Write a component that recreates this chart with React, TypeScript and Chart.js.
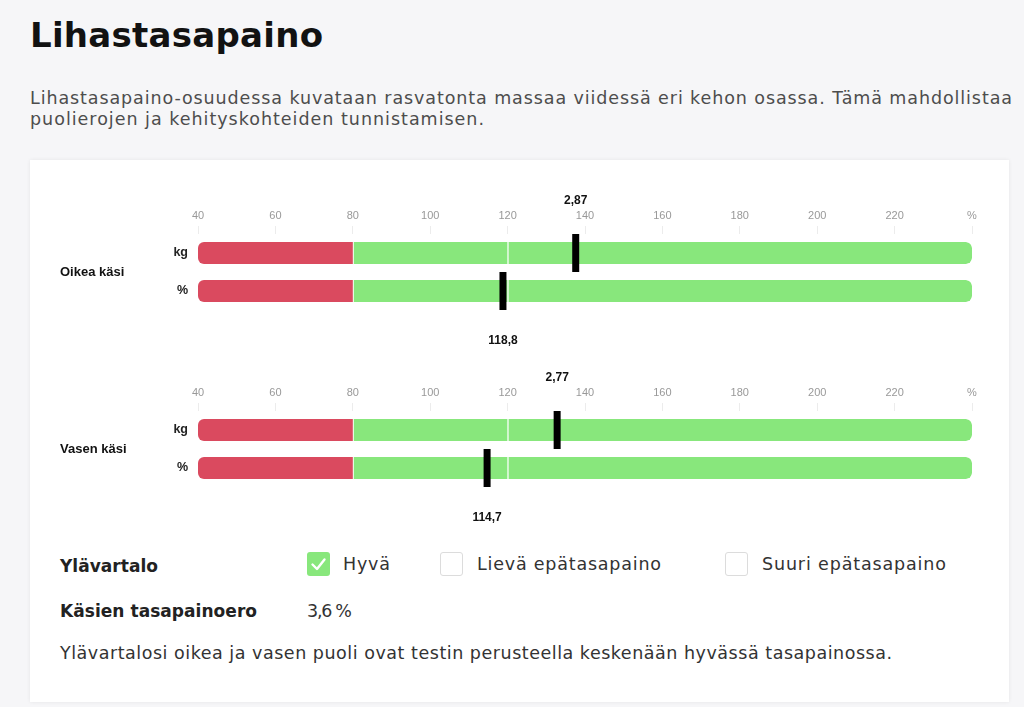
import React, { useEffect, useLayoutEffect, useRef } from 'react';
import { Chart, registerables } from 'chart.js';

Chart.register(...registerables);

// ---- data ----
const rowLabels = ['kg', '%'];
const xTickLabels = ['40', '60', '80', '100', '120', '140', '160', '180', '200', '220', '%'];
const axisMin = 40;
const axisMax = 240;
const axisStep = 20;
const redRange = [40, 80];
const greenLowRange = [80, 120];
const greenHighRange = [120, 240];

const rightArmName = 'Oikea käsi';
const rightArmMarkerPos = [137.6, 118.8];
const rightArmMarkerText = ['2,87', '118,8'];

const leftArmName = 'Vasen käsi';
const leftArmMarkerPos = [132.8, 114.7];
const leftArmMarkerText = ['2,77', '114,7'];

// ---- styles ----
const RED = '#da4a5f';
const GREEN = '#88e77c';
const CHART_FONT = 'Arial, "Liberation Sans", sans-serif';
const PAGE_FONT = '"DejaVu Sans", "Noto Sans", sans-serif';
const PAGE_BASELINE = 0.346;

type ChartProps = { name: string; markerPos: number[]; markerText: string[]; top: number };

function BalanceChart({ name, markerPos, markerText, top }: ChartProps) {
  const ref = useRef<HTMLCanvasElement>(null);
  useEffect(() => {
    if (!ref.current) return;
    const labelPlugin = {
      id: 'markerLabels',
      afterDatasetsDraw(chart: any) {
        const meta = chart.getDatasetMeta(3);
        const ctx = chart.ctx;
        ctx.save();
        ctx.font = `bold 12px ${CHART_FONT}`;
        ctx.fillStyle = '#111';
        ctx.textAlign = 'center';
        ctx.textBaseline = 'middle';
        meta.data.forEach((pt: any, i: number) => {
          const dy = i === 0 ? -52 : 50;
          ctx.fillText(markerText[i], pt.x, pt.y + dy);
        });
        ctx.restore();
      },
    };
    const barCommon = {
      xAxisID: 'x',
      yAxisID: 'y',
      grouped: false,
      barThickness: 22,
      borderSkipped: false,
      inflateAmount: 0,
      order: 1,
    };
    const chart = new Chart(ref.current, {
      type: 'bar',
      data: {
        labels: rowLabels,
        datasets: [
          {
            ...barCommon,
            data: rowLabels.map(() => redRange),
            backgroundColor: RED,
            borderWidth: 0,
            borderRadius: { topLeft: 6, bottomLeft: 6, topRight: 0, bottomRight: 0 },
          },
          {
            ...barCommon,
            data: rowLabels.map(() => greenLowRange),
            backgroundColor: GREEN,
            borderColor: 'rgba(255,255,255,0.85)',
            borderWidth: { left: 1, top: 0, right: 0, bottom: 0 },
            borderRadius: 0,
          },
          {
            ...barCommon,
            data: rowLabels.map(() => greenHighRange),
            backgroundColor: GREEN,
            borderColor: 'rgba(255,255,255,0.85)',
            borderWidth: { left: 1, top: 0, right: 0, bottom: 0 },
            borderRadius: { topLeft: 0, bottomLeft: 0, topRight: 6, bottomRight: 6 },
          },
          {
            type: 'scatter',
            xAxisID: 'x',
            yAxisID: 'y',
            order: 0,
            data: rowLabels.map((r, i) => ({ x: markerPos[i], y: r })),
            pointStyle: 'line',
            pointRotation: 90,
            pointRadius: 19,
            pointBorderWidth: 7,
            pointBorderColor: '#000',
            pointBackgroundColor: '#000',
            showLine: false,
            clip: false,
          } as any,
        ],
      },
      options: {
        indexAxis: 'y',
        responsive: false,
        animation: false,
        events: [],
        layout: { padding: { top: 20, left: 30, right: 37, bottom: 47 } },
        plugins: { legend: { display: false }, tooltip: { enabled: false } },
        scales: {
          x: {
            type: 'linear',
            position: 'top',
            min: axisMin,
            max: axisMax,
            ticks: {
              stepSize: axisStep,
              autoSkip: false,
              maxRotation: 0,
              padding: 3,
              color: '#999',
              font: { size: 11, family: CHART_FONT },
              callback: (_v: any, i: number) => xTickLabels[i],
            },
            grid: { drawOnChartArea: false, drawTicks: true, tickLength: 8, color: '#ececec' },
            border: { display: false },
            afterFit: (s: any) => {
              s.height = 34;
            },
          },
          y: {
            type: 'category',
            position: 'left',
            weight: 0,
            grid: { display: false, drawTicks: false },
            border: { display: false },
            ticks: { color: '#222', padding: 10, font: { size: 12.5, weight: 'bold', family: CHART_FONT } },
            afterFit: (s: any) => {
              s.width = 40;
            },
          },
          y2: {
            type: 'category',
            position: 'left',
            weight: 1,
            labels: [name],
            offset: true,
            grid: { display: false, drawTicks: false },
            border: { display: false },
            ticks: { crossAlign: 'far', padding: 0, color: '#111', font: { size: 13, weight: 'bold', family: CHART_FONT } },
            afterFit: (s: any) => {
              s.width = 98;
            },
          },
        },
      } as any,
      plugins: [labelPlugin],
    });
    return () => chart.destroy();
  }, [name, markerPos, markerText]);
  return (
    <canvas
      ref={ref}
      width={979}
      height={177}
      style={{ position: 'absolute', left: 0, top, width: 979, height: 177 }}
    />
  );
}

type FitProps = { text: string; width: number; left: number; baseline: number; size: number; weight?: number; color: string };

function FitText({ text, width, left, baseline, size, weight = 400, color }: FitProps) {
  const ref = useRef<HTMLSpanElement>(null);
  useLayoutEffect(() => {
    const el = ref.current;
    if (!el) return;
    el.style.letterSpacing = '0px';
    const w = el.getBoundingClientRect().width;
    const n = Array.from(text).length;
    if (n > 1) el.style.letterSpacing = (width - w) / (n - 1) + 'px';
  }, [text, width]);
  const lh = Math.round(size * 1.5);
  const top = baseline - lh / 2 - PAGE_BASELINE * size;
  return (
    <span
      ref={ref}
      style={{
        position: 'absolute',
        left,
        top,
        whiteSpace: 'nowrap',
        fontFamily: PAGE_FONT,
        fontSize: size,
        fontWeight: weight,
        lineHeight: `${lh}px`,
        color,
      }}
    >
      {text}
    </span>
  );
}

function CheckBox({ left, top, checked }: { left: number; top: number; checked: boolean }) {
  return (
    <div
      style={{
        position: 'absolute',
        left,
        top,
        width: 23,
        height: 24,
        boxSizing: 'border-box',
        borderRadius: 3,
        background: checked ? GREEN : '#fff',
        border: checked ? 'none' : '1px solid #dcdcdc',
      }}
    >
      {checked && (
        <svg width={23} height={24} viewBox="0 0 23 24" style={{ position: 'absolute', left: 0, top: 0 }}>
          <path d="M5.5 12.5 L10 17 L17.5 7.5" fill="none" stroke="#fff" strokeWidth={2.4} strokeLinecap="round" strokeLinejoin="round" />
        </svg>
      )}
    </div>
  );
}

export default function App() {
  useEffect(() => {
    document.body.style.margin = '0';
    document.body.style.background = '#f6f6f8';
  }, []);
  const cx = 30;
  const cy = 160;
  return (
    <div style={{ position: 'relative', width: 1024, height: 707, background: '#f6f6f8', overflow: 'hidden' }}>
      <FitText text="Lihastasapaino" width={293} left={30} baseline={47} size={34} weight={700} color="#121212" />
      <FitText
        text="Lihastasapaino-osuudessa kuvataan rasvatonta massaa viidessä eri kehon osassa. Tämä mahdollistaa"
        width={982}
        left={30}
        baseline={104}
        size={17.5}
        color="#4d4d4d"
      />
      <FitText text="puolierojen ja kehityskohteiden tunnistamisen." width={454} left={30} baseline={125} size={17.5} color="#4d4d4d" />
      <div
        style={{
          position: 'absolute',
          left: cx,
          top: cy,
          width: 979,
          height: 542,
          background: '#fff',
          boxShadow: '0 0 4px rgba(0,0,0,0.07)',
        }}
      >
        <BalanceChart name={rightArmName} markerPos={rightArmMarkerPos} markerText={rightArmMarkerText} top={20} />
        <BalanceChart name={leftArmName} markerPos={leftArmMarkerPos} markerText={leftArmMarkerText} top={197} />

        <FitText text="Ylävartalo" width={98} left={60 - cx} baseline={572 - cy} size={17} weight={700} color="#222" />
        <CheckBox left={307 - cx} top={552 - cy} checked={true} />
        <FitText text="Hyvä" width={47} left={343 - cx} baseline={570 - cy} size={17.5} color="#333" />
        <CheckBox left={440 - cx} top={552 - cy} checked={false} />
        <FitText text="Lievä epätasapaino" width={184} left={477 - cx} baseline={570 - cy} size={17.5} color="#333" />
        <CheckBox left={725 - cx} top={552 - cy} checked={false} />
        <FitText text="Suuri epätasapaino" width={184} left={762 - cx} baseline={570 - cy} size={17.5} color="#333" />

        <FitText text="Käsien tasapainoero" width={197} left={60 - cx} baseline={617 - cy} size={17} weight={700} color="#222" />
        <FitText text="3,6 %" width={45} left={307 - cx} baseline={617 - cy} size={17.5} color="#333" />

        <FitText
          text="Ylävartalosi oikea ja vasen puoli ovat testin perusteella keskenään hyvässä tasapainossa."
          width={832}
          left={60 - cx}
          baseline={659 - cy}
          size={17.5}
          color="#333"
        />
      </div>
    </div>
  );
}
